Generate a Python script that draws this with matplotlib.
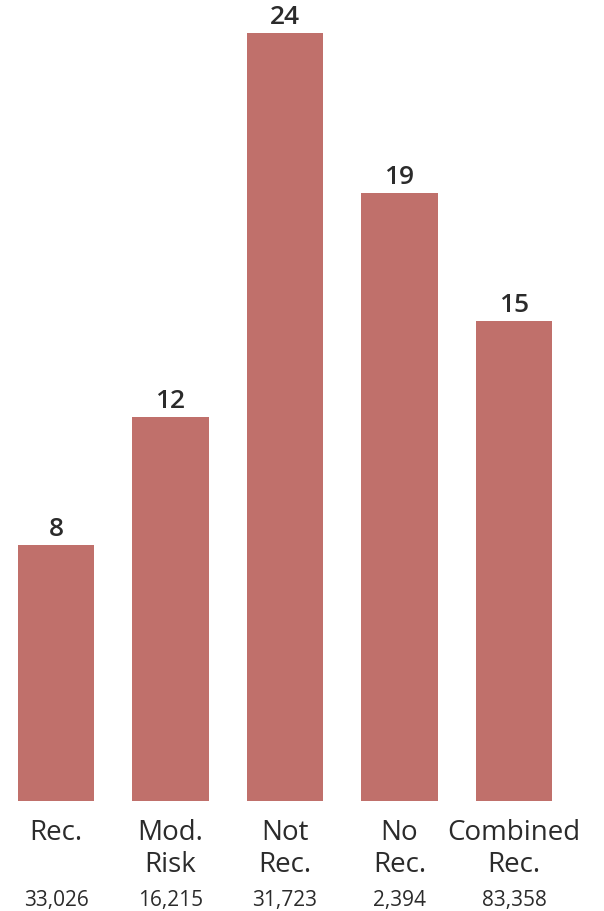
import matplotlib.pyplot as plt
import numpy as np

plt.rcParams['font.family'] = ['Open Sans', 'DejaVu Sans']

categories = ['Rec.', 'Mod.\nRisk', 'Not\nRec.', 'No\nRec.', 'Combined\nRec.']
values = [8, 12, 24, 19, 15]
counts = ['33,026', '16,215', '31,723', '2,394', '83,358']

bar_color = '#C0706B'
text_color = '#2b2b2b'

fig = plt.figure(figsize=(6.04, 9.11), dpi=100)
ax = fig.add_axes([0, 110 / 911, 1, 801 / 911])

x = np.arange(len(values))
ax.bar(x, values, width=0.664, color=bar_color)
ax.set_xlim(-0.489, 4.786)
ax.set_ylim(0, 25.03)

# value on top of each bar
for xi, v in zip(x, values):
    ax.text(xi, v + 0.08, str(v), ha='center', va='bottom', fontsize=19,
            fontweight='semibold', color=text_color)

# category names and counts under the axis
for xi, name, n in zip(x, categories, counts):
    ax.text(xi, -0.55, name, ha='center', va='top', fontsize=20,
            color=text_color, linespacing=1.22)
    ax.text(xi, -2.78, n, ha='center', va='top', fontsize=15,
            color=text_color)

ax.axis('off')
fig.savefig('out.png', dpi=100)
